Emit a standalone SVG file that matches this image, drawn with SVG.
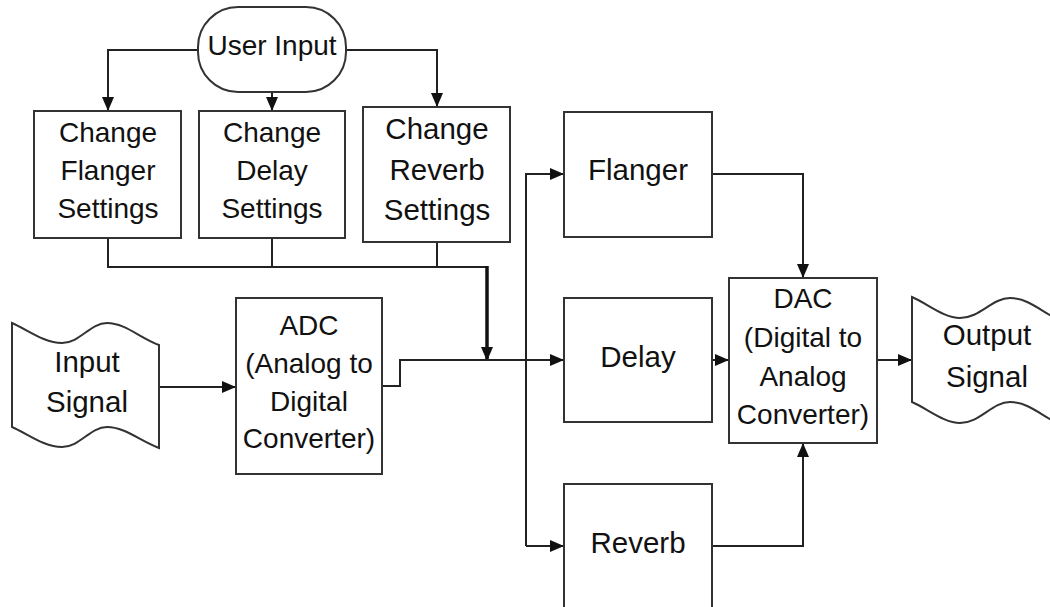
<svg xmlns="http://www.w3.org/2000/svg" width="1050" height="607" viewBox="0 0 1050 607">
<style>
.box{fill:#fff;stroke:#333;stroke-width:2}
.t{font-family:"Liberation Sans",Arial,sans-serif;fill:#111;text-anchor:middle}
.c{fill:none;stroke:#222;stroke-width:2}
.thick{fill:none;stroke:#111;stroke-width:3.5}
</style>
<defs>
<marker id="ah" markerUnits="userSpaceOnUse" markerWidth="14" markerHeight="12" refX="14" refY="6" orient="auto">
<path d="M0,0 L14,6 L0,12 Z" fill="#111"/>
</marker>
</defs>
<rect width="1050" height="607" fill="#fff"/>

<g id="connectors">
<path class="c" d="M198,50 H108 V111" marker-end="url(#ah)"/>
<path class="c" d="M272,92 V111" marker-end="url(#ah)"/>
<path class="c" d="M346,50 H437 V107" marker-end="url(#ah)"/>
<path class="c" d="M108,238 V267 H487"/>
<path class="c" d="M272,238 V267"/>
<path class="c" d="M437,242 V267"/>
<path class="thick" d="M487,266 V361" marker-end="url(#ah)"/>
<path class="c" d="M159,387 H236" marker-end="url(#ah)"/>
<path class="c" d="M382,386 H400 V360 H564" marker-end="url(#ah)"/>
<path class="c" d="M526,546 V174 H564" marker-end="url(#ah)"/>
<path class="c" d="M526,546 H564" marker-end="url(#ah)"/>
<path class="c" d="M712,174 H803 V278" marker-end="url(#ah)"/>
<path class="c" d="M712,546 H803 V443" marker-end="url(#ah)"/>
<path class="c" d="M712,360 H729" marker-end="url(#ah)"/>
<path class="c" d="M877,360 H912" marker-end="url(#ah)"/>
</g>

<g id="user-input">
<rect class="box" x="198" y="7" width="148" height="85" rx="40" ry="40"/>
<text class="t" x="272" y="55" font-size="28">User Input</text>
</g>

<g id="change-flanger">
<rect class="box" x="34" y="111" width="147" height="127"/>
<text class="t" font-size="28"><tspan x="108" y="142">Change</tspan><tspan x="108" y="180">Flanger</tspan><tspan x="108" y="218">Settings</tspan></text>
</g>

<g id="change-delay">
<rect class="box" x="199" y="111" width="146" height="127"/>
<text class="t" font-size="28"><tspan x="272" y="142">Change</tspan><tspan x="272" y="180">Delay</tspan><tspan x="272" y="218">Settings</tspan></text>
</g>

<g id="change-reverb">
<rect class="box" x="363" y="107" width="147" height="135"/>
<text class="t" font-size="29.5"><tspan x="437" y="139">Change</tspan><tspan x="437" y="180">Reverb</tspan><tspan x="437" y="220">Settings</tspan></text>
</g>

<g id="input-signal">
<path class="box" d="M12,323 C28,330 44,343 62,343 C80,343 90,323 107,323 C125,323 140,338 159,345 L159,448 C140,441 125,427 107,427 C90,427 80,447 62,447 C44,447 28,434 12,427 Z"/>
<text class="t" font-size="29.5"><tspan x="87" y="372">Input</tspan><tspan x="87" y="412">Signal</tspan></text>
</g>

<g id="adc">
<rect class="box" x="236" y="298" width="146" height="176"/>
<text class="t" font-size="28"><tspan x="309" y="335">ADC</tspan><tspan x="309" y="373">(Analog to</tspan><tspan x="309" y="411">Digital</tspan><tspan x="309" y="448">Converter)</tspan></text>
</g>

<g id="flanger">
<rect class="box" x="564" y="112" width="148" height="125"/>
<text class="t" x="638" y="180" font-size="29.5">Flanger</text>
</g>

<g id="delay">
<rect class="box" x="564" y="298" width="148" height="124"/>
<text class="t" x="638" y="367" font-size="29.5">Delay</text>
</g>

<g id="reverb">
<rect class="box" x="564" y="484" width="148" height="140"/>
<text class="t" x="638" y="553" font-size="29.5">Reverb</text>
</g>

<g id="dac">
<rect class="box" x="729" y="278" width="148" height="165"/>
<text class="t" font-size="28"><tspan x="803" y="308">DAC</tspan><tspan x="803" y="347">(Digital to</tspan><tspan x="803" y="386">Analog</tspan><tspan x="803" y="424">Converter)</tspan></text>
</g>

<g id="output-signal">
<path class="box" d="M912,297 C928,304 944,318 960,318 C980,318 992,298 1010,298 C1028,298 1042,312 1059,320 L1059,424 C1042,416 1028,402 1010,402 C992,402 980,423 960,423 C944,423 928,409 912,402 Z"/>
<text class="t" font-size="29.5"><tspan x="987" y="345">Output</tspan><tspan x="987" y="387">Signal</tspan></text>
</g>
</svg>
